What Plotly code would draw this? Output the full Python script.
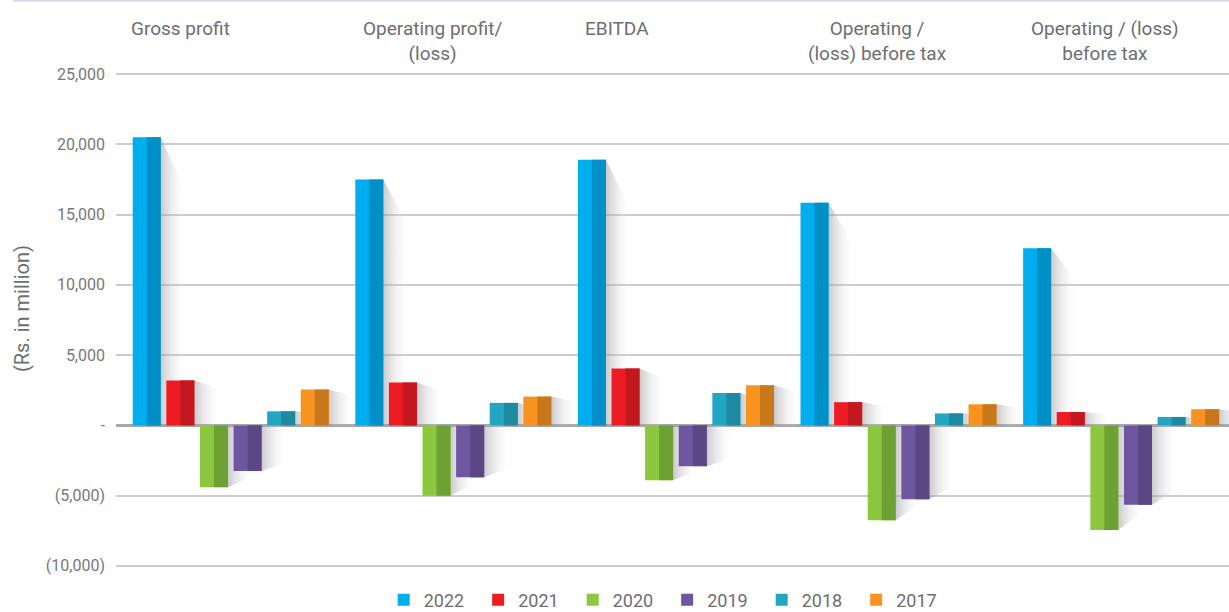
import plotly.graph_objects as go

# ---------------- data ----------------
categories = ["Gross profit", "Operating profit/<br>(loss)", "EBITDA",
              "Operating /<br>(loss) before tax", "Operating / (loss)<br>before tax"]
years = ["2022", "2021", "2020", "2019", "2018", "2017"]
v2022 = [20500, 17500, 18900, 15850, 12600]
v2021 = [3200, 3050, 4050, 1650, 950]
v2020 = [-4400, -5000, -3900, -6750, -7450]
v2019 = [-3250, -3700, -2900, -5250, -5650]
v2018 = [1000, 1600, 2300, 850, 600]
v2017 = [2550, 2050, 2850, 1500, 1150]
series = [v2022, v2021, v2020, v2019, v2018, v2017]
y_tick_vals = [-10000, -5000, 0, 5000, 10000, 15000, 20000, 25000]
y_tick_text = ["(10,000)", "(5,000)", "-", "5,000", "10,000", "15,000", "20,000", "25,000"]
y_title = "(Rs. in million)"

# ---------------- styles ----------------
light = ["#00AEEF", "#ED1C24", "#8DC63F", "#6E57A0", "#23A6C2", "#F7931E"]
dark = ["#008FC6", "#C4181F", "#6FA034", "#5A4784", "#1E8AA2", "#C8781B"]
txt = "#6d6e71"
FONT = "Roboto, Arial, sans-serif"

x_idx = list(range(len(categories)))
first_off = -0.425
slot = 0.151
bar_w = 0.126
shadow_w = 0.12
label_off = -0.40
label_xshift = [-9, 0, 0, 0, 0]

fig = go.Figure()

# shadows (base axes, drawn below the overlaid bar axes)
for i, vals in enumerate(series):
    for j, v in enumerate(vals):
        xr = x_idx[j] + first_off + i * slot + bar_w
        fig.add_trace(go.Scatter(
            x=[xr, xr + shadow_w, xr + shadow_w, xr, xr],
            y=[v, v * 0.8, 0, 0, v],
            mode="lines", line=dict(width=0), fill="toself",
            fillgradient=dict(type="horizontal",
                              colorscale=[[0, "rgba(150,150,156,0.50)"],
                                          [1, "rgba(255,255,255,0)"]]),
            hoverinfo="skip", showlegend=False, xaxis="x", yaxis="y"))

# bars (two-tone) on overlaid axes
for i, (name, vals) in enumerate(zip(years, series)):
    off = first_off + i * slot
    fig.add_trace(go.Bar(
        x=x_idx, y=vals, name=name, width=bar_w, offset=off,
        marker=dict(color=light[i], line=dict(width=0)),
        xaxis="x2", yaxis="y2", legendgroup=name, showlegend=True))
    fig.add_trace(go.Bar(
        x=x_idx, y=vals, name=name, width=bar_w / 2, offset=off + bar_w / 2,
        marker=dict(color=dark[i], line=dict(width=0)),
        xaxis="x2", yaxis="y2", legendgroup=name, showlegend=False))

# group labels
for j, c in enumerate(categories):
    fig.add_annotation(x=x_idx[j] + label_off, y=1.0, xref="x", yref="paper",
                       xshift=label_xshift[j], yshift=57, text=c, showarrow=False,
                       xanchor="left", yanchor="top", align="center",
                       font=dict(family=FONT, size=19, color=txt))

# y title
fig.add_annotation(x=-0.0845, y=0.524, xref="paper", yref="paper", text=y_title,
                   textangle=-90, showarrow=False, xanchor="center", yanchor="middle",
                   font=dict(family=FONT, size=20, color=txt))

# top frame line
fig.add_shape(type="line", xref="paper", yref="paper", x0=-0.0925, x1=1.0,
              y0=1.1442, y1=1.1442, line=dict(color="#d4d7ea", width=2))

yr = [-10150, 25150]
xr_ = [-0.5, 4.5]
fig.update_layout(
    width=1229, height=612,
    margin=dict(l=116, r=0, t=72, b=44, autoexpand=False),
    paper_bgcolor="white", plot_bgcolor="white",
    barmode="overlay",
    font=dict(family=FONT, color=txt),
    xaxis=dict(range=xr_, showgrid=False, zeroline=False, showticklabels=False,
               showline=False, fixedrange=True),
    xaxis2=dict(range=xr_, overlaying="x", showgrid=False, zeroline=False,
                showticklabels=False, showline=False),
    yaxis=dict(range=yr, tickvals=y_tick_vals, ticktext=y_tick_text,
               showgrid=True, gridcolor="#cbcbcd", gridwidth=1.5,
               zeroline=True, zerolinecolor="#a5a7aa", zerolinewidth=3,
               showline=False, ticks="", ticklabelstandoff=10,
               tickfont=dict(family=FONT, size=16, color="#77787b")),
    yaxis2=dict(range=yr, overlaying="y", showgrid=False, zeroline=False,
                showticklabels=False, showline=False),
    legend=dict(orientation="h", x=0.2405, xanchor="left", y=-0.0645,
                yanchor="middle", font=dict(family=FONT, size=18, color=txt),
                bgcolor="rgba(0,0,0,0)", entrywidth=49.5, entrywidthmode="pixels"),
    showlegend=True,
)

fig.write_html("out.html", config={"displayModeBar": False},
               post_script="document.body.style.margin='0';")
